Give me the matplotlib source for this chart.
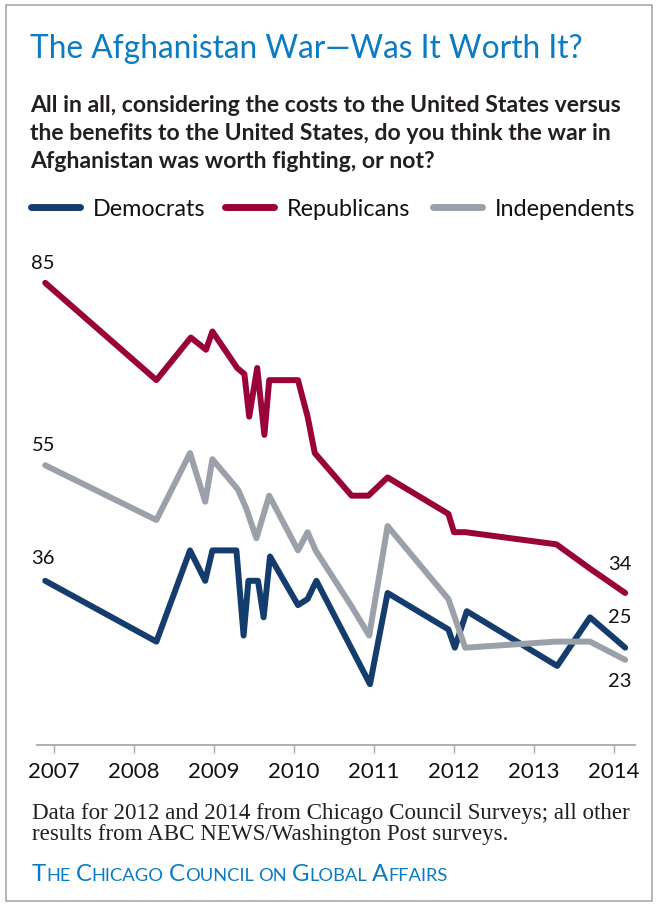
import matplotlib
matplotlib.use("Agg")
import matplotlib.pyplot as plt
from matplotlib.patches import Rectangle

W, H = 658, 905

# survey dates (decimal years) and share saying the war was worth fighting (%)
dem_x = [2006.89, 2008.28, 2008.70, 2008.89, 2008.98, 2009.28, 2009.37, 2009.43,
         2009.55, 2009.62, 2009.70, 2010.05, 2010.17, 2010.28, 2010.95, 2011.17,
         2011.93, 2012.01, 2012.16, 2013.29, 2013.70, 2014.14]
dem_y = [36, 26, 41, 36, 41, 41, 27, 36, 36, 30, 40, 32, 33, 36, 19, 34,
         28, 25, 31, 22, 30, 25]

rep_x = [2006.89, 2008.28, 2008.71, 2008.90, 2008.98, 2009.29, 2009.38, 2009.44,
         2009.54, 2009.63, 2009.69, 2010.05, 2010.17, 2010.26, 2010.72, 2010.93,
         2011.17, 2011.93, 2012.00, 2012.14, 2013.28, 2013.70, 2014.14]
rep_y = [85, 69, 76, 74, 77, 71, 70, 63, 71, 60, 69, 69, 63, 57, 50, 50,
         53, 47, 44, 44, 42, 38, 34]

ind_x = [2006.89, 2008.28, 2008.70, 2008.89, 2008.98, 2009.30, 2009.40, 2009.53,
         2009.69, 2010.05, 2010.17, 2010.27, 2010.71, 2010.94, 2011.17, 2011.93,
         2012.14, 2013.28, 2013.70, 2014.14]
ind_y = [55, 46, 57, 49, 56, 51, 48, 43, 50, 41, 44, 41, 32, 27, 45, 33,
         25, 26, 26, 23]

years = [2007, 2008, 2009, 2010, 2011, 2012, 2013, 2014]

DEM = "#143d6e"
REP = "#9a0339"
IND = "#9ba1ab"
BLUE = "#0b7cc3"
INK = "#231f20"

fig = plt.figure(figsize=(W / 100, H / 100), dpi=100)


def fx(x):
    return x / W


def fy(y):
    return 1 - y / H


# frame
fig.patches.append(Rectangle((fx(6), fy(901)), fx(646), 896 / H, transform=fig.transFigure,
                             fill=False, edgecolor="#a8a8a8", lw=1.2))

fig.text(fx(30), fy(58), "The Afghanistan War\u2014Was It Worth It?", fontsize=22.8,
         color=BLUE, family="Lato", va="baseline")

question = ["All in all, considering the costs to the United States versus",
            "the benefits to the United States, do you think the war in",
            "Afghanistan was worth fighting, or not?"]
for i, line in enumerate(question):
    fig.text(fx(30), fy(112 + 28 * i), line, fontsize=16.6, color=INK,
             family="Lato", weight="bold", va="baseline")

# legend
for x0, name, col in [(28, "Democrats", DEM), (222, "Republicans", REP), (430, "Independents", IND)]:
    fig.add_artist(plt.Line2D([fx(x0 + 3), fx(x0 + 52)], [fy(207), fy(207)], color=col, lw=5,
                              solid_capstyle="round", transform=fig.transFigure))
    fig.text(fx(x0 + 65), fy(216), name, fontsize=16.8, color="#111111", family="Lato",
             va="baseline")

ax = fig.add_axes([fx(37), fy(745), 598 / W, 495 / H])
ax.set_xlim(2006.7875, 2014.2625)
ax.set_ylim(9.0, 90.4)

kw = dict(lw=4.3, solid_capstyle="round", solid_joinstyle="round")
ax.plot(dem_x, dem_y, color=DEM, **kw)
ax.plot(ind_x, ind_y, color=IND, **kw)
ax.plot(rep_x, rep_y, color=REP, **kw)

for s in ["top", "left", "right"]:
    ax.spines[s].set_visible(False)
ax.spines["bottom"].set_color("#a9a9a9")
ax.spines["bottom"].set_linewidth(1.3)
ax.set_yticks([])
ax.set_xticks(years)
ax.set_xticklabels([str(y) for y in years], fontsize=16, family="Lato", color="#111111")
ax.tick_params(axis="x", length=6, width=1, color="#a9a9a9", pad=6)

# start and end values
lab = dict(textcoords="offset pixels", fontsize=14.5, family="Lato", color="#111111",
           ha="center", va="center")
ax.annotate(str(rep_y[0]), (rep_x[0], rep_y[0]), xytext=(-2, 19), **lab)
ax.annotate(str(ind_y[0]), (ind_x[0], ind_y[0]), xytext=(-2, 20), **lab)
ax.annotate(str(dem_y[0]), (dem_x[0], dem_y[0]), xytext=(-2, 22), **lab)
ax.annotate(str(rep_y[-1]), (rep_x[-1], rep_y[-1]), xytext=(-5, 28), **lab)
ax.annotate(str(dem_y[-1]), (dem_x[-1], dem_y[-1]), xytext=(-5, 30), **lab)
ax.annotate(str(ind_y[-1]), (ind_x[-1], ind_y[-1]), xytext=(-5, -22), **lab)

fig.text(fx(32), fy(819), "Data for 2012 and 2014 from Chicago Council Surveys; all other",
         fontsize=16.6, family="Liberation Serif", color=INK, va="baseline")
fig.text(fx(32), fy(840), "results from ABC NEWS/Washington Post surveys.",
         fontsize=16.6, family="Liberation Serif", color=INK, va="baseline")

# small-caps credit line
renderer = fig.canvas.get_renderer()
x = 32
for word in ["The", "Chicago", "Council", "on", "Global", "Affairs"]:
    parts = [(word[0], 17.3), (word[1:].upper(), 13.2)] if word[0].isupper() else [(word.upper(), 13.2)]
    for txt, size in parts:
        t = fig.text(fx(x), fy(881), txt, fontsize=size, family="Lato", color=BLUE, va="baseline")
        x += t.get_window_extent(renderer).width
    x += 5

fig.savefig("out.png", dpi=100)
